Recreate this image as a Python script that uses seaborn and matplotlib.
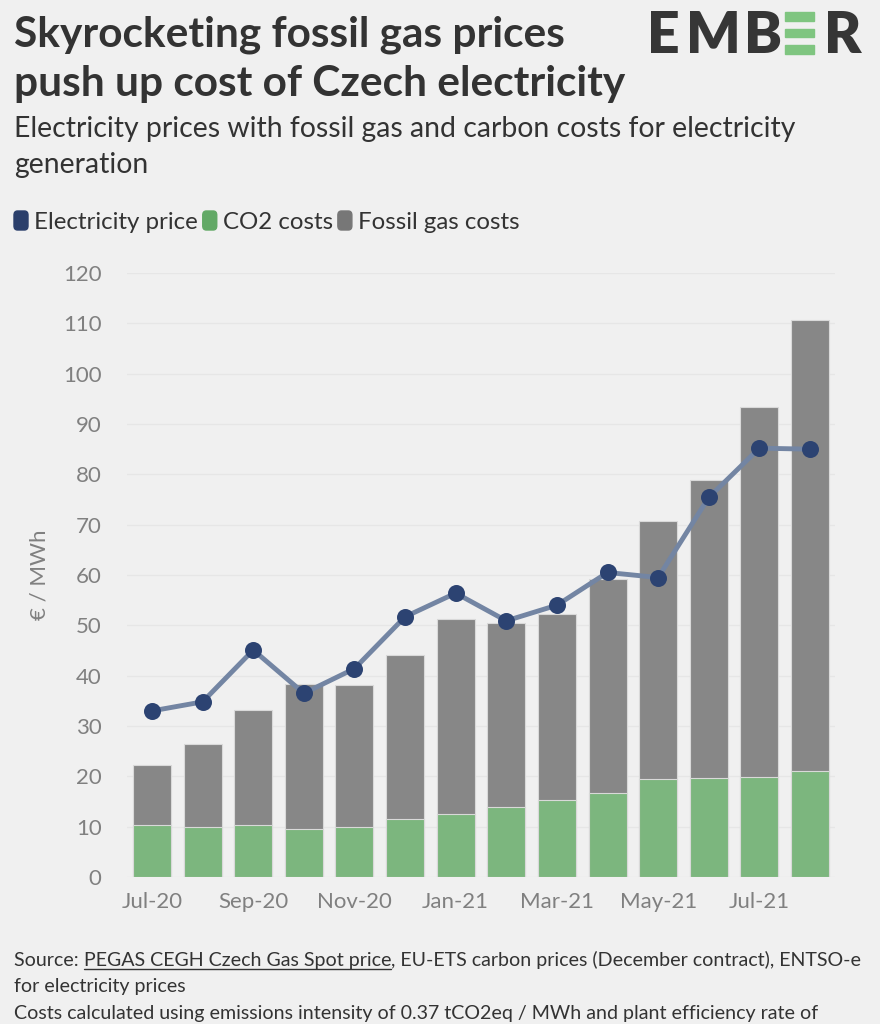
import numpy as np
import pandas as pd
import seaborn as sns
import matplotlib.pyplot as plt
from matplotlib.patches import Rectangle, FancyBboxPatch

months = ['Jul-20', 'Aug-20', 'Sep-20', 'Oct-20', 'Nov-20', 'Dec-20', 'Jan-21',
          'Feb-21', 'Mar-21', 'Apr-21', 'May-21', 'Jun-21', 'Jul-21', 'Aug-21']
co2_costs = [10.3, 9.9, 10.3, 9.5, 9.9, 11.5, 12.5, 14.0, 15.2, 16.7, 19.4, 19.6, 19.9, 21.1]
total_costs = [22.2, 26.4, 33.1, 38.3, 38.1, 44.2, 51.2, 50.4, 52.3, 59.3, 70.7, 78.8, 93.4, 110.6]
elec_price = [33.0, 34.8, 45.1, 36.5, 41.4, 51.7, 56.4, 50.9, 54.0, 60.5, 59.5, 75.4, 85.2, 85.0]
yticks = list(range(0, 121, 10))

df = pd.DataFrame({'month': months, 'co2': co2_costs, 'total': total_costs,
                   'price': elec_price, 'idx': range(len(months))})

BG = '#f0f0f0'
GRAY = '#878787'
GREEN = '#7cb67e'
NAVY = '#2c4372'
LINE = '#7385a3'
TXT = '#333333'
TICK = '#808080'

sns.set_theme(style='white')
plt.rcParams['font.family'] = ['Lato', 'DejaVu Sans']

fig = plt.figure(figsize=(8.8, 10.24), dpi=100, facecolor=BG)
ax = fig.add_axes([126.7 / 880, 1 - 877 / 1024, 708.6 / 880, 604 / 1024])
ax.set_facecolor(BG)

sns.barplot(data=df, x='month', y='total', color=GRAY, saturation=1, width=0.75,
            edgecolor='#d9d9d9', linewidth=0.8, ax=ax, zorder=2)
sns.barplot(data=df, x='month', y='co2', color=GREEN, saturation=1, width=0.75,
            edgecolor='#d9d9d9', linewidth=0.8, ax=ax, zorder=3)
sns.lineplot(data=df, x='idx', y='price', color=LINE, linewidth=3.5, ax=ax, zorder=4)
sns.scatterplot(data=df, x='idx', y='price', color=NAVY, s=150, edgecolor=NAVY,
                linewidth=0, ax=ax, zorder=5)

ax.set_xlim(-0.5, len(months) - 0.5)
ax.set_ylim(0, 120)
ax.set_yticks(yticks)
ax.set_yticklabels([str(v) for v in yticks], color=TICK, fontsize=16)
ax.set_xticks(range(len(months)))
ax.set_xticklabels([m if i % 2 == 0 else '' for i, m in enumerate(months)],
                   color=TICK, fontsize=16)
ax.tick_params(axis='x', length=5, color='#dedede', width=1, pad=6)
ax.tick_params(axis='y', length=0, pad=18)
ax.yaxis.grid(True, color='#e6e6e6', linewidth=1)
ax.set_axisbelow(True)
for s in ax.spines.values():
    s.set_visible(False)
ax.set_xlabel('')
ax.set_ylabel('€ / MWh', color=TICK, fontsize=16, labelpad=10)

# titles
fig.text(14 / 880, 1 - 46 / 1024, 'Skyrocketing fossil gas prices', fontsize=30.5,
         fontweight='bold', color=TXT, va='baseline')
fig.text(14 / 880, 1 - 96 / 1024, 'push up cost of Czech electricity', fontsize=30.5,
         fontweight='bold', color=TXT, va='baseline')
fig.text(14 / 880, 1 - 137 / 1024,
         'Electricity prices with fossil gas and carbon costs for electricity',
         fontsize=20.4, color=TXT, va='baseline')
fig.text(14 / 880, 1 - 173 / 1024, 'generation', fontsize=20.4, color=TXT, va='baseline')

# logo
for letter, lx0 in (('E', 647), ('M', 686), ('B', 744), ('R', 824)):
    fig.text(lx0 / 880, 1 - 53 / 1024, letter, fontsize=41, fontweight='heavy',
             color='#363636', va='baseline', ha='left')
for yy in (12, 28.5, 45):
    fig.patches.append(Rectangle((785 / 880, 1 - (yy + 8.5) / 1024), 29 / 880, 8.5 / 1024,
                                 transform=fig.transFigure, color='#7fc580'))

# legend
leg_items = [('Electricity price', '#2b3f6b'), ('CO2 costs', '#62a966'),
             ('Fossil gas costs', '#777777')]
fig.canvas.draw()
rend = fig.canvas.get_renderer()
x = 14
for label, col in leg_items:
    fig.patches.append(FancyBboxPatch((x / 880, 1 - 230 / 1024), 14 / 880, 19 / 1024,
                                      boxstyle='round,pad=0,rounding_size=0.004',
                                      transform=fig.transFigure, color=col))
    t = fig.text((x + 20) / 880, 1 - 229 / 1024, label, fontsize=17.3, color=TXT,
                 va='baseline')
    bb = t.get_window_extent(rend)
    x = x + 20 + bb.width + 5

# source
fs = 14.1
src_y = 966
t1 = fig.text(14 / 880, 1 - src_y / 1024, 'Source: ', fontsize=fs, color=TXT,
              va='baseline')
bb1 = t1.get_window_extent(rend)
lx = 14 + bb1.width
t2 = fig.text(lx / 880, 1 - src_y / 1024, 'PEGAS CEGH Czech Gas Spot price', fontsize=fs,
              color=TXT, va='baseline')
bb2 = t2.get_window_extent(rend)
fig.lines.append(plt.Line2D([lx / 880, (lx + bb2.width) / 880],
                            [1 - (src_y + 3) / 1024, 1 - (src_y + 3) / 1024],
                            transform=fig.transFigure, color=TXT, linewidth=1))
fig.text((lx + bb2.width) / 880, 1 - src_y / 1024,
         ', EU-ETS carbon prices (December contract), ENTSO-e', fontsize=fs,
         color=TXT, va='baseline')
fig.text(14 / 880, 1 - 992 / 1024, 'for electricity prices', fontsize=fs, color=TXT,
         va='baseline')
fig.text(14 / 880, 1 - 1019 / 1024,
         'Costs calculated using emissions intensity of 0.37 tCO2eq / MWh and plant efficiency rate of',
         fontsize=fs, color=TXT, va='baseline')

fig.savefig('out.png', dpi=100, facecolor=BG)
